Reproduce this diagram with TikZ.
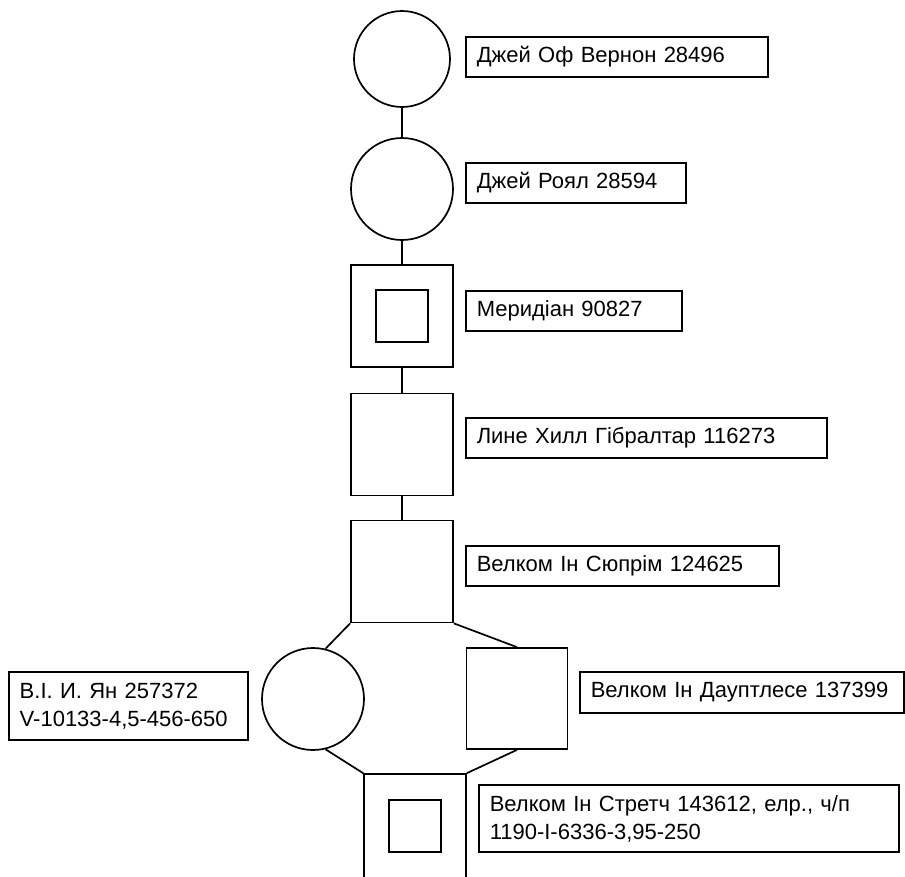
\documentclass[tikz,border=0pt]{standalone}
\usepackage{fontspec}
\setmainfont{Liberation Sans}
\usepackage{tikz}
\usetikzlibrary{shapes, positioning, calc}

\tikzset{
  horse/.style={draw, circle, line width=1.7pt, minimum size=102pt, inner sep=0pt},
  mare/.style={draw, rectangle, line width=1.7pt, minimum size=102pt, inner sep=0pt},
  inner/.style={draw, rectangle, line width=1.7pt, minimum size=52pt, inner sep=0pt},
  tag/.style={draw, rectangle, line width=1.5pt, anchor=west, align=left,
    inner xsep=11pt, inner ysep=0pt, minimum height=40pt,
    font=\fontsize{22}{28}\selectfont},
  link/.style={line width=1.7pt}
}

\begin{document}
\begin{tikzpicture}[x=1pt, y=-1pt]
  \useasboundingbox (0,0) rectangle (905,876);

  % Pedigree line
  \node[horse, minimum size=96pt] (c1) at (402,59) {};
  \node[horse] (c2) at (402,189) {};
  \node[mare] (s3) at (402,316) {};
  \node[inner] (s3i) at (402,316) {};
  \node[mare] (s4) at (402,444.5) {};
  \node[mare] (s5) at (402,571.5) {};

  % Parents of the last one
  \node[horse] (c6) at (313,699) {};
  \node[mare, minimum size=101pt] (s7) at (517,698.5) {};
  \node[mare, minimum height=108pt] (s8) at (415,828) {};
  \node[inner] (s8i) at (415,826) {};

  % Connectors
  \draw[link] (c1.south) -- (c2.north);
  \draw[link] (c2.south) -- (s3.north);
  \draw[link] (s3.south) -- (s4.north);
  \draw[link] (s4.south) -- (s5.north);
  \draw[link] (s5.south west) -- (c6.76);
  \draw[link] (s5.south east) -- (s7.north);
  \draw[link] (c6.-76) -- (s8.north west);
  \draw[link] (s7.south) -- (s8.north east);

  % Labels
  \node[tag, text width=280pt] (l1) at (465,57) {Джей Оф Вернон 28496};
  \node[tag, text width=198pt] (l2) at (465,183) {Джей Роял 28594};
  \node[tag, text width=194pt] (l3) at (465,311) {Меридіан 90827};
  \node[tag, text width=339pt] (l4) at (465,438) {Лине Хилл Гібралтар 116273};
  \node[tag, text width=291pt] (l5) at (465,566) {Велком Ін Сюпрім 124625};
  \node[tag, text width=217pt, minimum height=68pt] (l6) at (8,706)
    {В.І. И. Ян 257372\\V-10133-4,5-456-650};
  \node[tag, text width=302pt, minimum height=41pt] (l7) at (579,692.5)
    {Велком Ін Дауптлесе 137399};
  \node[tag, text width=398pt, minimum height=67pt] (l8) at (478,818.5)
    {Велком Ін Стретч 143612, елр., ч/п\\1190-І-6336-3,95-250};
\end{tikzpicture}
\end{document}
